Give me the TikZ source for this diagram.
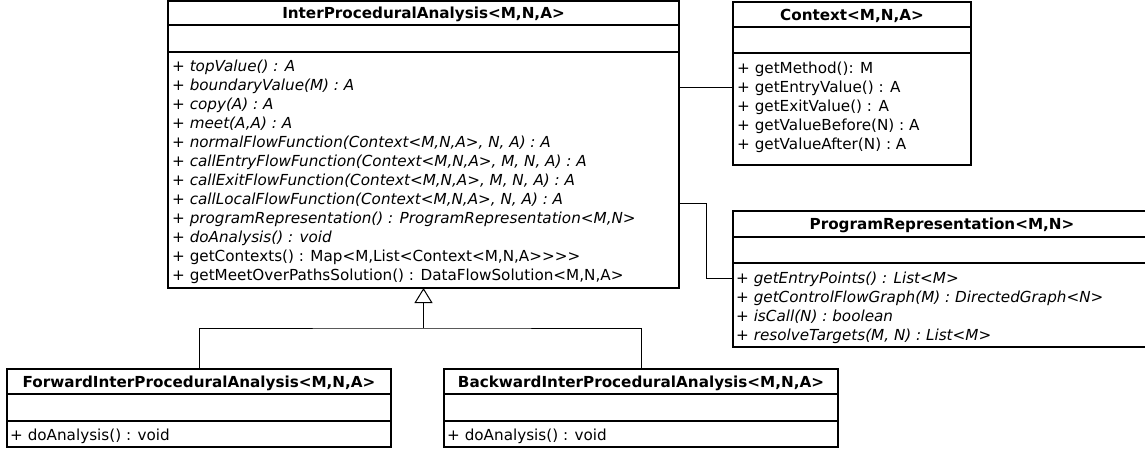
\documentclass[tikz,border=0pt]{standalone}
\usepackage{fontspec}
\setmainfont{DejaVu Sans}
\usetikzlibrary{arrows.meta}
\begin{document}
\begin{tikzpicture}[x=1pt,y=-1pt,
  box/.style={draw, line width=2pt, inner sep=0pt, outer sep=0pt, anchor=north west},
  sepline/.style={line width=2pt},
  ttl/.style={font=\bfseries\fontsize{15.2}{19}\selectfont, anchor=base, inner sep=0pt},
  op/.style={font=\fontsize{15.2}{19}\selectfont, anchor=base west, inner sep=0pt},
  opi/.style={font=\itshape\fontsize{15.2}{19}\selectfont, anchor=base west, inner sep=0pt},
  conn/.style={line width=1pt},
  gen/.style={line width=1pt, -{Triangle[open, width=18pt, length=15pt, line width=1pt]}}
]
\useasboundingbox (0,0) rectangle (1145,448);

% InterProceduralAnalysis
\node[box, minimum width=511pt, minimum height=287pt] (ipa) at (168,1) {};
\draw[sepline] (168,25) -- (679,25);
\draw[sepline] (168,52) -- (679,52);
\node[ttl] (ipat) at (423.5,18) {InterProceduralAnalysis<M,N,A>};
\node[opi] (m1) at (172,71.5) {+ topValue() : A};
\node[opi] (m2) at (172,90.5) {+ boundaryValue(M) : A};
\node[opi] (m3) at (172,109.5) {+ copy(A) : A};
\node[opi] (m4) at (172,128.5) {+ meet(A,A) : A};
\node[opi] (m5) at (172,147.5) {+ normalFlowFunction(Context<M,N,A>, N, A) : A};
\node[opi] (m6) at (172,166.5) {+ callEntryFlowFunction(Context<M,N,A>, M, N, A) : A};
\node[opi] (m7) at (172,185.5) {+ callExitFlowFunction(Context<M,N,A>, M, N, A) : A};
\node[opi] (m8) at (172,204.5) {+ callLocalFlowFunction(Context<M,N,A>, N, A) : A};
\node[opi] (m9) at (172,223.5) {+ programRepresentation() : ProgramRepresentation<M,N>};
\node[opi] (m10) at (172,242.5) {+ doAnalysis() : void};
\node[op] (m11) at (172,261.5) {+ getContexts() : Map<M,List<Context<M,N,A>{}>{}>{}>};
\node[op] (m12) at (172,280.5) {+ getMeetOverPathsSolution() : DataFlowSolution<M,N,A>};

% Context
\node[box, minimum width=238pt, minimum height=163pt] (ctx) at (733,2) {};
\draw[sepline] (733,27) -- (971,27);
\draw[sepline] (733,53) -- (971,53);
\node[ttl] (ctxt) at (852,20) {Context<M,N,A>};
\node[op] (c1) at (737,73.5) {+ getMethod(): M};
\node[op] (c2) at (737,92.5) {+ getEntryValue() : A};
\node[op] (c3) at (737,111.5) {+ getExitValue() : A};
\node[op] (c4) at (737,130.5) {+ getValueBefore(N) : A};
\node[op] (c5) at (737,149.5) {+ getValueAfter(N) : A};

% ProgramRepresentation
\node[box, minimum width=419pt, minimum height=136pt] (prog) at (733,211) {};
\draw[sepline] (733,237) -- (1152,237);
\draw[sepline] (733,263) -- (1152,263);
\node[ttl] (progt) at (942,229.5) {ProgramRepresentation<M,N>};
\node[opi] (p1) at (736,283.5) {+ getEntryPoints() : List<M>};
\node[opi] (p2) at (736,302.5) {+ getControlFlowGraph(M) : DirectedGraph<N>};
\node[opi] (p3) at (736,321.5) {+ isCall(N) : boolean};
\node[opi] (p4) at (736,340.5) {+ resolveTargets(M, N) : List<M>};

% Forward
\node[box, minimum width=384pt, minimum height=78pt] (fwd) at (7,369) {};
\draw[sepline] (7,394) -- (391,394);
\draw[sepline] (7,421) -- (391,421);
\node[ttl] (fwdt) at (199,387) {ForwardInterProceduralAnalysis<M,N,A>};
\node[op] (f1) at (10,440.5) {+ doAnalysis() : void};

% Backward
\node[box, minimum width=394pt, minimum height=78pt] (bwd) at (444,369) {};
\draw[sepline] (444,394) -- (838,394);
\draw[sepline] (444,421) -- (838,421);
\node[ttl] (bwdt) at (641,387) {BackwardInterProceduralAnalysis<M,N,A>};
\node[op] (b1) at (447,440.5) {+ doAnalysis() : void};

% connectors
\coordinate (ca) at (700,87);
\draw[conn] (ipa.east |- ca) -- (ctx.west |- ca);
\coordinate (pa) at (706,203);
\coordinate (pb) at (706,278);
\draw[conn] (ipa.east |- pa) -- (pa) -- (pb) -- (prog.west |- pb);

\path (ipa.south) ++(0,40) coordinate (j);
\draw[conn] (fwd.north) |- (j) -| (bwd.north);
\draw[gen] (j) -- (ipa.south);
\end{tikzpicture}
\end{document}
